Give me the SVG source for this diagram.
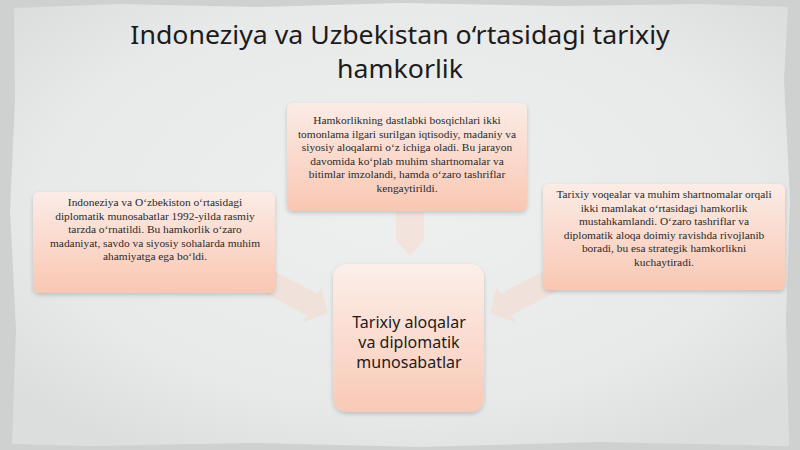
<svg xmlns="http://www.w3.org/2000/svg" width="800" height="450" viewBox="0 0 800 450">
  <defs>
    <radialGradient id="paper" cx="50%" cy="45%" r="65%">
      <stop offset="0" stop-color="#eeefef"/>
      <stop offset="0.7" stop-color="#e8e9e9"/>
      <stop offset="1" stop-color="#dcdddd"/>
    </radialGradient>
    <linearGradient id="box" x1="0" y1="0" x2="0" y2="1">
      <stop offset="0" stop-color="#fbece6"/>
      <stop offset="1" stop-color="#f9c7b3"/>
    </linearGradient>
    <linearGradient id="boxC" x1="0" y1="0" x2="0" y2="1">
      <stop offset="0" stop-color="#fcefea"/>
      <stop offset="1" stop-color="#f9c9b6"/>
    </linearGradient>
    <filter id="sh" x="-10%" y="-10%" width="120%" height="130%">
      <feDropShadow dx="0" dy="2" stdDeviation="2" flood-color="#000" flood-opacity="0.18"/>
    </filter>
  </defs>
  <style>
    .title { font-family: "Noto Sans", "Open Sans", sans-serif; font-size: 24.5px; fill: #1c1c1c; text-anchor: middle; }
    .body { font-family: "Liberation Serif", serif; font-size: 11.4px; fill: #2a2a2a; text-anchor: middle; }
    .center { font-family: "Noto Sans", "Open Sans", sans-serif; font-size: 16px; fill: #1c1c1c; text-anchor: middle; }
    .arrow { fill: #f9d2c2; fill-opacity: 0.4; stroke: none; }
    .card { fill: url(#box); filter: url(#sh); }
  </style>

  <!-- background -->
  <rect x="0" y="0" width="800" height="450" fill="#cfd0d0"/>
  <path d="M14,8 L120,4 L260,7 L400,3 L560,6 L700,4 L788,7 L784,80 L790,200 L786,320 L789,446 L600,442 L420,447 L250,443 L90,446 L12,444 L16,330 L10,210 L15,100 Z" fill="url(#paper)"/>

  <!-- title -->
  <g id="title" transform="translate(400,0) scale(1.09,1)">
    <text class="title" x="0" y="44">Indoneziya va Uzbekistan o‘rtasidagi tarixiy</text>
    <text class="title" x="0" y="78">hamkorlik</text>
  </g>

  <!-- connectors -->
  <g id="connectors">
    <polygon class="arrow" points="396,212 424,212 424,240 410,256 396,240"/>
    <polygon class="arrow" points="255.6,261.4 317.7,294 321.4,286.9 328,313 302.8,322.3 306.5,315.2 244.4,282.6"/>
    <polygon class="arrow" points="562.4,261.4 500.3,294 496.6,286.9 490,313 515.2,322.3 511.5,315.2 573.6,282.6"/>
  </g>

  <!-- top node -->
  <g id="node-top">
    <rect class="card" x="287" y="103" width="240" height="108" rx="6"/>
    <text class="body" x="407" y="124">Hamkorlikning dastlabki bosqichlari ikki</text>
    <text class="body" x="407" y="137.5">tomonlama ilgari surilgan iqtisodiy, madaniy va</text>
    <text class="body" x="407" y="151">siyosiy aloqalarni o‘z ichiga oladi. Bu jarayon</text>
    <text class="body" x="407" y="164.5">davomida ko‘plab muhim shartnomalar va</text>
    <text class="body" x="407" y="178">bitimlar imzolandi, hamda o‘zaro tashriflar</text>
    <text class="body" x="407" y="191.5">kengaytirildi.</text>
  </g>

  <!-- left node -->
  <g id="node-left">
    <rect class="card" x="33" y="192" width="242" height="101" rx="6"/>
    <text class="body" x="155" y="206">Indoneziya va O‘zbekiston o‘rtasidagi</text>
    <text class="body" x="155" y="219.5">diplomatik munosabatlar 1992-yilda rasmiy</text>
    <text class="body" x="155" y="233">tarzda o‘rnatildi. Bu hamkorlik o‘zaro</text>
    <text class="body" x="155" y="246.5">madaniyat, savdo va siyosiy sohalarda muhim</text>
    <text class="body" x="155" y="260">ahamiyatga ega bo‘ldi.</text>
  </g>

  <!-- right node -->
  <g id="node-right">
    <rect class="card" x="543" y="184" width="242" height="106" rx="6"/>
    <text class="body" x="664" y="198">Tarixiy voqealar va muhim shartnomalar orqali</text>
    <text class="body" x="664" y="211.5">ikki mamlakat o‘rtasidagi hamkorlik</text>
    <text class="body" x="664" y="225">mustahkamlandi. O‘zaro tashriflar va</text>
    <text class="body" x="664" y="238.5">diplomatik aloqa doimiy ravishda rivojlanib</text>
    <text class="body" x="664" y="252">boradi, bu esa strategik hamkorlikni</text>
    <text class="body" x="664" y="265.5">kuchaytiradi.</text>
  </g>

  <!-- center node -->
  <g id="node-center">
    <rect x="333" y="264" width="151" height="148" rx="14" fill="url(#boxC)" filter="url(#sh)"/>
    <text class="center" x="409" y="328">Tarixiy aloqalar</text>
    <text class="center" x="409" y="348">va diplomatik</text>
    <text class="center" x="409" y="368">munosabatlar</text>
  </g>
</svg>
